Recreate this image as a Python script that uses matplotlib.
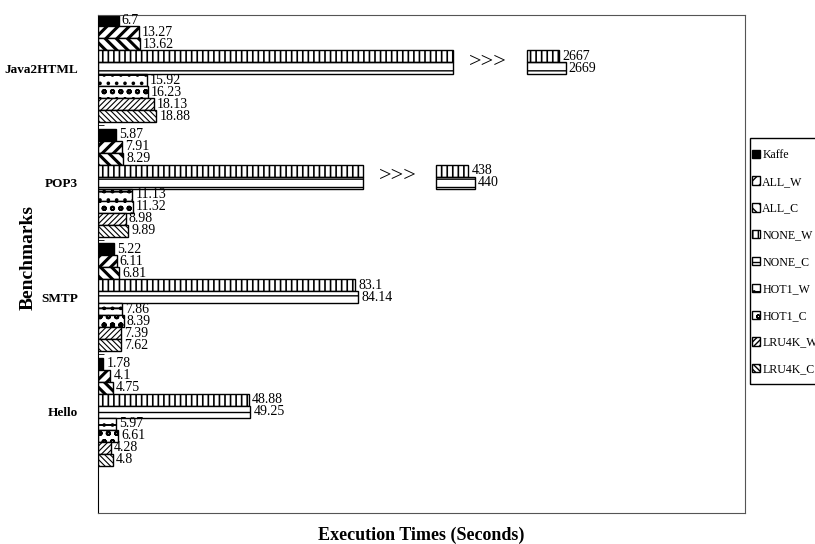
import matplotlib.pyplot as plt
import numpy as np
from matplotlib.patches import Rectangle

plt.rcParams['font.family'] = ['Liberation Serif', 'DejaVu Serif']

benchmarks = ['Java2HTML', 'POP3', 'SMTP', 'Hello']
series = ['Kaffe', 'ALL_W', 'ALL_C', 'NONE_W', 'NONE_C',
          'HOT1_W', 'HOT1_C', 'LRU4K_W', 'LRU4K_C']

kaffe = [6.7, 5.87, 5.22, 1.78]
all_w = [13.27, 7.91, 6.11, 4.1]
all_c = [13.62, 8.29, 6.81, 4.75]
none_w = [2667, 438, 83.1, 48.88]
none_c = [2669, 440, 84.14, 49.25]
hot1_w = [15.92, 11.13, 7.86, 5.97]
hot1_c = [16.23, 11.32, 8.39, 6.61]
lru4k_w = [18.13, 8.98, 7.39, 4.28]
lru4k_c = [18.88, 9.89, 7.62, 4.8]

values = [kaffe, all_w, all_c, none_w, none_c, hot1_w, hot1_c, lru4k_w, lru4k_c]

# fill, hatch, hatch line width
styles = [
    ('black', '', 1.0),
    ('white', '///', 2.2),
    ('white', '\\\\\\', 2.2),
    ('white', '|||', 1.2),
    ('white', '--', 1.0),
    ('white', '-..', 1.4),
    ('white', 'oo', 1.4),
    ('white', '//////', 0.8),
    ('white', '\\\\\\\\\\\\', 0.8),
]

# bars too long for the axis are cut: (cut at, ">>>" position, stub start)
breaks = {'Java2HTML': (114.8, 126.0, 138.5), 'POP3': (85.8, 96.8, 109.1)}
stub_len = 10.6

fig = plt.figure(figsize=(8.15, 5.44), dpi=100)
ax = fig.add_axes([0.120, 0.057, 0.794, 0.915])

h = 0.105
y_centers = np.arange(len(benchmarks))

for j, (name, vals, (fc, hatch, hlw)) in enumerate(zip(series, values, styles)):
    y = y_centers + (j - 4) * h
    for i, (bench, v) in enumerate(zip(benchmarks, vals)):
        if bench in breaks and v > breaks[bench][0]:
            cut, arrow_x, resume = breaks[bench]
            base = values[3][i]
            end = resume + stub_len + (v - base)
            parts = [(0, cut), (resume, end - resume)]
            label_x = end
            if j == 3:
                ax.text(arrow_x, y[i] + h / 2, '>>>', fontsize=16,
                        ha='center', va='center')
        else:
            parts = [(0, v)]
            label_x = v
        for left, width in parts:
            bar = ax.barh(y[i], width, left=left, height=h, color=fc,
                          edgecolor='black', linewidth=1.0, hatch=hatch,
                          label=name if (i == 0 and left == 0) else None)
            for p in bar.patches:
                if hasattr(p, 'set_hatch_linewidth'):
                    p.set_hatch_linewidth(hlw)
        ax.text(label_x + 1.0, y[i], f'{v:g}', fontsize=10,
                ha='left', va='center')

ax.set_xlim(0, 209)
ax.set_ylim(3.886, -0.463)
ax.set_xticks([])
ax.set_yticks(y_centers)
ax.set_yticklabels(benchmarks, fontsize=9.5, fontweight='bold')
ax.tick_params(axis='y', length=0, pad=14)
ax.set_yticks(y_centers[:-1] + 0.5, minor=True)
ax.tick_params(axis='y', which='minor', length=4, direction='in')

for side in ['top', 'right', 'bottom']:
    ax.spines[side].set_color('#555555')
ax.spines['left'].set_color('black')

ax.set_ylabel('Benchmarks', fontsize=14, fontweight='bold')
ax.yaxis.set_label_coords(-0.094, 0.514)
ax.set_xlabel('Execution Times (Seconds)', fontsize=13, fontweight='bold',
              labelpad=10)

# legend entries without frame, box drawn separately (runs off the right edge)
leg = fig.legend(loc='upper left', bbox_to_anchor=(752 / 815, 1 - 149 / 544),
                 fontsize=8.6, frameon=False, handlelength=0.7,
                 handleheight=0.7, handletextpad=0.15, labelspacing=1.24,
                 borderpad=0, borderaxespad=0)
fig.patches.append(Rectangle((750 / 815, 1 - 384 / 544), 0.2, 246 / 544,
                             transform=fig.transFigure, fill=False,
                             edgecolor='black', linewidth=1.0))

fig.savefig('out.png', dpi=100)
